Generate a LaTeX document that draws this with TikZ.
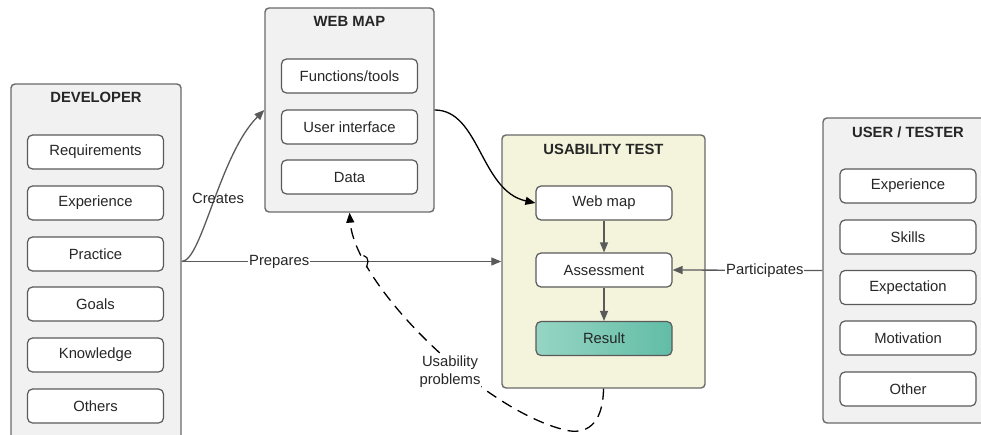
\documentclass[tikz,border=0pt]{standalone}
\usepackage{fontspec}
\setmainfont{Liberation Sans}
\usetikzlibrary{arrows.meta}
\definecolor{edge}{HTML}{5A5A5A}
\definecolor{frame}{HTML}{6A6A6A}
\definecolor{panel}{HTML}{F1F1F1}
\definecolor{testbg}{HTML}{F4F3DB}
\definecolor{resultL}{HTML}{96D5C4}
\definecolor{resultR}{HTML}{62BDA6}
\definecolor{ink}{HTML}{262626}
\begin{document}
\begin{tikzpicture}[x=1pt, y=1pt, font=\fontsize{14.8}{17}\selectfont, text=ink,
    groupbox/.style={draw=frame, line width=1.4pt, rounded corners=4pt, fill=panel},
    itembox/.style={draw=frame!85!black, line width=1.2pt, rounded corners=5pt, fill=white,
        minimum width=136pt, minimum height=34pt, inner sep=0pt},
    grouptitle/.style={font=\fontsize{14.8}{17}\selectfont\bfseries},
    flow/.style={draw=edge, line width=1.3pt, -{Triangle[length=10pt,width=8pt]}},
    blackflow/.style={draw=black, line width=1.3pt, -{Triangle[length=10pt,width=8pt]}}]
    \useasboundingbox (0,0) rectangle (981,434);
    \clip (0,0) rectangle (981,434);

    % Developer
    \node[groupbox, minimum width=170pt, minimum height=361pt] (dev) at (96,169.5) {};
    \node[grouptitle] (devtitle) at ([yshift=-14.5pt]dev.north) {DEVELOPER};
    \node[itembox] (req) at (95.5,282) {Requirements};
    \node[itembox] (exp) at (95.5,231) {Experience};
    \node[itembox] (prac) at (95.5,180) {Practice};
    \node[itembox] (goals) at (95.5,130) {Goals};
    \node[itembox] (know) at (95.5,79) {Knowledge};
    \node[itembox] (others) at (95.5,28) {Others};

    % Web map
    \node[groupbox, minimum width=169pt, minimum height=204pt] (webmap) at (349.5,324) {};
    \node[grouptitle] (webtitle) at ([yshift=-14.5pt]webmap.north) {WEB MAP};
    \node[itembox] (func) at (349.5,358) {Functions/tools};
    \node[itembox] (ui) at (349.5,307) {User interface};
    \node[itembox] (data) at (349.5,257) {Data};

    % Usability test
    \node[groupbox, fill=testbg, minimum width=203pt, minimum height=253pt] (ut) at (603.5,172.5) {};
    \node[grouptitle] (uttitle) at ([yshift=-15pt]ut.north) {USABILITY TEST};
    \node[itembox] (wm) at (604,231) {Web map};
    \node[itembox] (as) at (604,164) {Assessment};
    \node[itembox, left color=resultL, right color=resultR] (res) at (604,95.5) {Result};

    % User / tester
    \node[groupbox, minimum width=170pt, minimum height=305pt] (user) at (908,163.5) {};
    \node[grouptitle] (usertitle) at ([yshift=-15pt]user.north) {USER / TESTER};
    \node[itembox] (uexp) at (908,248) {Experience};
    \node[itembox] (skills) at (908,197) {Skills};
    \node[itembox] (expect) at (908,146.5) {Expectation};
    \node[itembox] (motiv) at (908,96) {Motivation};
    \node[itembox] (uother) at (908,45) {Other};

    % feedback loop, drawn first so the other lines sit on top
    \coordinate (hop) at (366,172.5);
    \draw[blackflow, dash pattern=on 11pt off 7pt] (ut.south) .. controls (603,8) and (585,-1) .. (565,4)
        .. controls (480,25) and (355,150) .. (webmap.south);
    \fill[white] (hop) circle (5);
    \node[fill=white, inner sep=1pt, align=center, font=\fontsize{14.8}{18}\selectfont] (probs) at (450,62) {Usability\\problems};

    % connectors
    \draw[flow] (dev.east |- ut.west) .. controls +(20,0) and +(-45,-45) .. (webmap.west);
    \node (creates) at (218,236) {Creates};
    \draw[flow] (dev.east |- ut.west) -- node[pos=0.305, fill=white, inner sep=1pt] (prep) {Prepares} (ut.west);
    \draw[black, line width=1.2pt] ([shift={(-2.5,6)}]hop) to[out=-10,in=90] ([shift={(2,0)}]hop)
        to[out=-90,in=95] ([shift={(0.5,-6)}]hop);
    \draw[blackflow] (webmap.east) .. controls +(45,0) and +(-55,12) .. (wm.west);
    \draw[flow] (wm) -- (as);
    \draw[flow] (as) -- (res);
    \draw[flow] (user.west) -- node[pos=0.384, fill=white, inner sep=1pt] (part) {Participates} (as.east);
\end{tikzpicture}
\end{document}
